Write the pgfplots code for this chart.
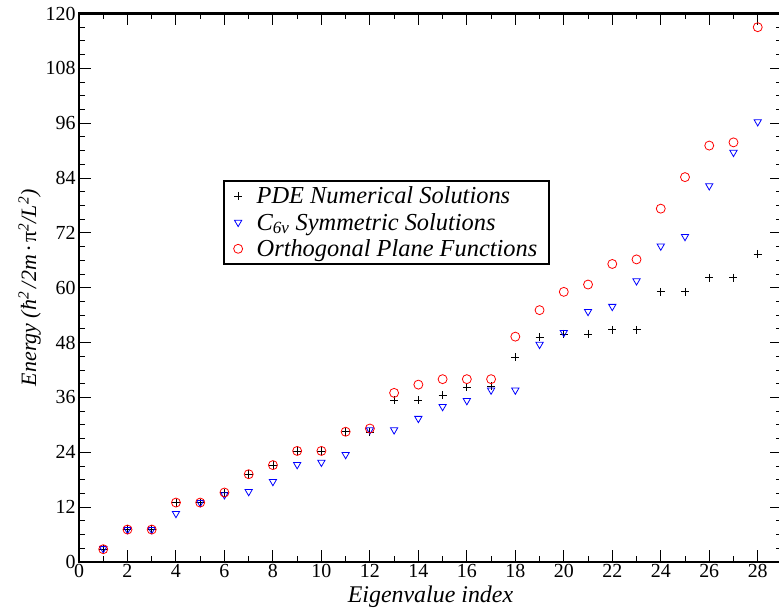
\documentclass[border=0pt]{standalone}
\usepackage{fontspec}
\setmainfont{Liberation Serif}
\usepackage{pgfplots}
\pgfplotsset{compat=1.18}

\begin{document}
\begin{tikzpicture}
\begin{axis}[
  x=24.24bp, y=4.571bp, anchor=origin, at={(0,0)},
  xmin=0, xmax=29, ymin=0, ymax=120,
  xtick={0,2,...,28}, ytick={0,12,...,120},
  minor x tick num=1, minor y tick num=3,
  major tick length=12bp, minor tick length=6bp,
  every tick/.style={black, line width=1bp},
  axis line style={line width=2.2bp},
  /pgf/number format/assume math mode=true,
  tick label style={font=\fontsize{20}{20}\selectfont},
  xticklabel style={yshift=1bp},
  xlabel={\textit{Eigenvalue index}},
  ylabel={\textit{Energy (ħ\textsuperscript{2}\,/2m\,·\,\textup{π}\textsuperscript{2}/L\textsuperscript{2})}},
  xlabel style={font=\fontsize{24}{24}\selectfont, yshift=-1bp},
  ylabel style={font=\fontsize{22}{24}\selectfont, yshift=-2bp},
  legend style={at={(axis cs:5.93,83.6)}, anchor=north west, draw=black,
    line width=1.8bp, font=\fontsize{24.5}{26}\selectfont\itshape,
    inner xsep=10bp, inner ysep=4bp, column sep=12bp, row sep=4bp,
    cells={anchor=west}},
  legend cell align=left,
]
\addplot[only marks, mark=+, mark size=4bp, black, mark options={line width=0.8bp}] coordinates {
(1,2.8) (2,7.2) (3,7.2) (4,13.0) (5,13.0) (6,15.2) (7,19.2) (8,21.2) (9,24.3) (10,24.3)
(11,28.5) (12,28.4) (13,35.4) (14,35.4) (15,36.5) (16,38.2) (17,38.5) (18,44.8) (19,49.2) (20,49.9)
(21,49.9) (22,50.8) (23,50.8) (24,59.1) (25,59.1) (26,62.2) (27,62.2) (28,67.4)};
\addlegendentry{PDE Numerical Solutions}
\addplot[only marks, mark=triangle, mark size=4.2bp, blue, mark options={rotate=180, line width=0.8bp}] coordinates {
(1,2.9) (2,7.1) (3,7.1) (4,10.6) (5,13.0) (6,14.7) (7,15.4) (8,17.6) (9,21.3) (10,21.8)
(11,23.5) (12,28.9) (13,28.9) (14,31.4) (15,34.0) (16,35.3) (17,37.6) (18,37.6) (19,47.6) (20,50.2)
(21,54.8) (22,55.9) (23,61.5) (24,69.1) (25,71.2) (26,82.3) (27,89.6) (28,96.3)};
\addlegendentry{\textit{C}\textsubscript{\itshape 6v} Symmetric Solutions}
\addplot[only marks, mark=o, mark size=4.5bp, red, mark options={line width=0.8bp}] coordinates {
(1,2.8) (2,7.1) (3,7.1) (4,13.0) (5,13.0) (6,15.2) (7,19.2) (8,21.2) (9,24.3) (10,24.3)
(11,28.5) (12,29.2) (13,37.0) (14,38.8) (15,40.0) (16,40.0) (17,40.0) (18,49.3) (19,55.1) (20,59.1)
(21,60.7) (22,65.2) (23,66.2) (24,77.3) (25,84.2) (26,91.1) (27,91.8) (28,117.0)};
\addlegendentry{Orthogonal Plane Functions}
\end{axis}
\pgfresetboundingbox
\path (-79bp,-51bp) rectangle (700bp,562bp);
\end{tikzpicture}
\end{document}
